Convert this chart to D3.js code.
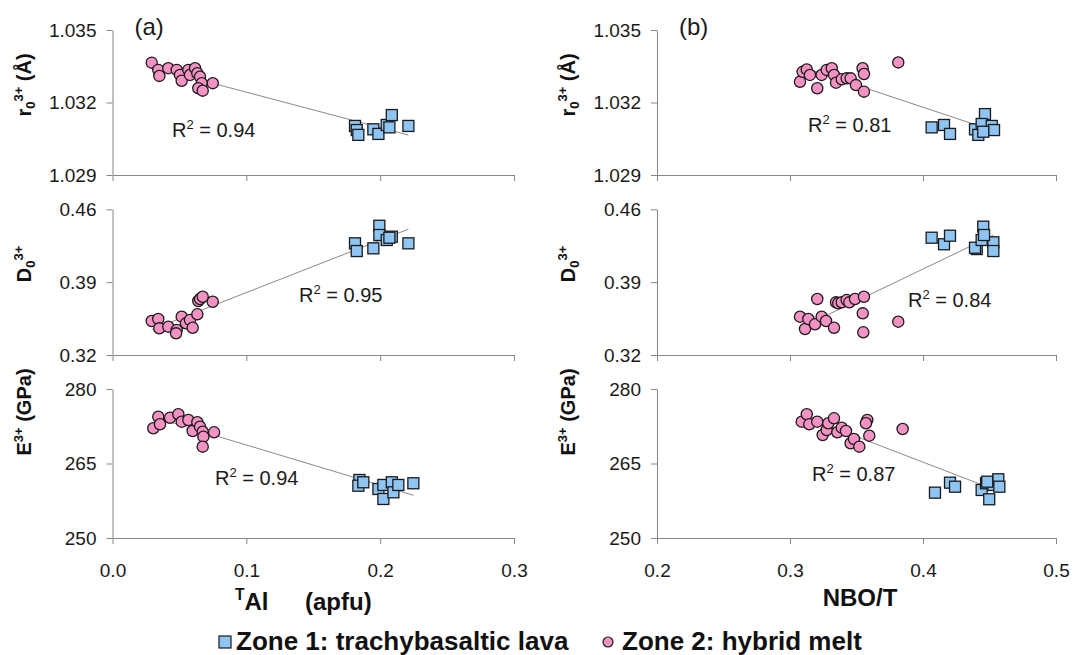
<!DOCTYPE html>
<html>
<head>
<meta charset="utf-8">
<script src="https://cdn.jsdelivr.net/npm/d3@7"></script>
<style>
  body { margin: 0; background: #fff; }
  svg { font-family: "Liberation Sans", Arial, sans-serif; }
  .axis path, .axis line { stroke: #868686; stroke-width: 1; }
  .axis text { font-size: 19px; fill: #1a1a1a; }
  .ytitle, .xtitle, .legend text { font-weight: bold; fill: #111; }
</style>
</head>
<body>
<div id="container"></div>
<script>
/* CONSTANTS AND GLOBALS */
const width = 1075,
  height = 655,
  pink = "#F592C4",
  blue = "#8FC5F2";

// tick values
const xTicksTAl = [0, 0.1, 0.2, 0.3];
const xTicksNBO = [0.2, 0.3, 0.4, 0.5];
const r0Ticks = [1.029, 1.032, 1.035];
const d0Ticks = [0.32, 0.39, 0.46];
const eTicks = [250, 265, 280];

// R² of the fits, [TAl, NBO/T]
const r2_r0 = ["0.94", "0.81"];
const r2_d0 = ["0.95", "0.84"];
const r2_e = ["0.94", "0.87"];

// Zone 1 (trachybasaltic lava) and Zone 2 (hybrid melt), [x, y]
// -- vs TAl
const r0_TAl_zone1 = [[0.1812,1.03103],[0.1825,1.03086],[0.1837,1.03066],[0.1949,1.03089],[0.1987,1.03070],[0.2049,1.03107],[0.2087,1.03148],[0.2069,1.03097],[0.2211,1.03103]];
const r0_TAl_zone2 = [[0.0293,1.03365],[0.0342,1.03335],[0.0350,1.03310],[0.0417,1.03342],[0.0480,1.03335],[0.0504,1.03314],[0.0517,1.03290],[0.0567,1.03335],[0.0579,1.03314],[0.0617,1.03342],[0.0634,1.03321],[0.0654,1.03307],[0.0667,1.03280],[0.0641,1.03259],[0.0674,1.03249],[0.0749,1.03280]];
const d0_TAl_zone1 = [[0.1812,0.4273],[0.1825,0.4199],[0.1949,0.4225],[0.1994,0.4442],[0.1994,0.4353],[0.2049,0.4305],[0.2087,0.4337],[0.2069,0.4327],[0.2211,0.4273]];
const d0_TAl_zone2 = [[0.0293,0.3527],[0.0342,0.3546],[0.0350,0.3456],[0.0417,0.3472],[0.0480,0.3440],[0.0475,0.3408],[0.0517,0.3568],[0.0549,0.3504],[0.0579,0.3536],[0.0599,0.3462],[0.0634,0.3591],[0.0641,0.3719],[0.0654,0.3738],[0.0674,0.3760],[0.0749,0.3712]];
const e_TAl_zone1 = [[0.1845,261.68],[0.1837,260.53],[0.1874,261.22],[0.1987,259.87],[0.2024,260.68],[0.2024,257.86],[0.2087,261.22],[0.2099,259.20],[0.2136,260.68],[0.2248,261.02]];
const e_TAl_zone2 = [[0.0305,272.09],[0.0342,274.42],[0.0355,272.90],[0.0430,274.22],[0.0492,274.91],[0.0517,273.42],[0.0567,273.76],[0.0599,271.55],[0.0634,273.30],[0.0654,272.41],[0.0674,271.40],[0.0679,270.40],[0.0674,268.39],[0.0759,271.28]];
// -- vs NBO/T
const r0_NBO_zone1 = [[0.4065,1.03097],[0.4158,1.03107],[0.4203,1.03070],[0.4391,1.03089],[0.4416,1.03066],[0.4466,1.03152],[0.4441,1.03111],[0.4517,1.03103],[0.4534,1.03086],[0.4453,1.03079]];
const r0_NBO_zone2 = [[0.3075,1.03286],[0.3095,1.03327],[0.3126,1.03337],[0.3150,1.03314],[0.3205,1.03259],[0.3238,1.03314],[0.3276,1.03335],[0.3314,1.03342],[0.3331,1.03314],[0.3346,1.03282],[0.3389,1.03296],[0.3426,1.03300],[0.3456,1.03300],[0.3496,1.03272],[0.3556,1.03245],[0.3546,1.03342],[0.3556,1.03318],[0.3814,1.03366]];
const d0_NBO_zone1 = [[0.4065,0.4327],[0.4158,0.4264],[0.4203,0.4346],[0.4404,0.4218],[0.4391,0.4231],[0.4453,0.4433],[0.4441,0.4305],[0.4529,0.4283],[0.4529,0.4199],[0.4459,0.4353]];
const d0_NBO_zone2 = [[0.3075,0.3568],[0.3113,0.3450],[0.3138,0.3546],[0.3188,0.3495],[0.3205,0.3738],[0.3238,0.3568],[0.3271,0.3527],[0.3331,0.3462],[0.3346,0.3706],[0.3363,0.3697],[0.3389,0.3706],[0.3426,0.3728],[0.3446,0.3706],[0.3489,0.3738],[0.3547,0.3600],[0.3551,0.3418],[0.3556,0.3760],[0.3814,0.3520]];
const e_NBO_zone1 = [[0.4090,259.13],[0.4203,261.14],[0.4241,260.33],[0.4441,259.67],[0.4474,261.02],[0.4498,257.80],[0.4529,260.68],[0.4566,261.82],[0.4574,260.33],[0.4483,261.34]];
const e_NBO_zone2 = [[0.3088,273.42],[0.3126,274.91],[0.3145,272.89],[0.3205,273.42],[0.3246,270.74],[0.3276,271.75],[0.3288,273.10],[0.3331,274.10],[0.3356,271.28],[0.3389,272.21],[0.3421,271.55],[0.3456,269.07],[0.3481,269.94],[0.3521,268.39],[0.3581,273.76],[0.3571,273.10],[0.3596,270.60],[0.3847,271.95]];

/* LAYOUT */
const cols = [
  { range: [112.5, 514], domain: [0, 0.3], ticks: xTicksTAl, tag: "(a)" },
  { range: [657, 1056], domain: [0.2, 0.5], ticks: xTicksNBO, tag: "(b)" }
];
const rows = [
  { range: [175, 30], ticks: r0Ticks, fmt: ".3f", r2: r2_r0, data: [[r0_TAl_zone1, r0_TAl_zone2], [r0_NBO_zone1, r0_NBO_zone2]],
    r2At: [[172, 137], [808, 132]], titleY: 85, title: [["r", ""], ["0", "sub"], ["3+", "sup"], [" (Å)", ""]] },
  { range: [355, 209.3], ticks: d0Ticks, fmt: ".2f", r2: r2_d0, data: [[d0_TAl_zone1, d0_TAl_zone2], [d0_NBO_zone1, d0_NBO_zone2]],
    r2At: [[299, 302], [908, 307]], titleY: 264, title: [["D", ""], ["0", "sub"], ["3+", "sup"]] },
  { range: [538, 389], ticks: eTicks, fmt: "d", r2: r2_e, data: [[e_TAl_zone1, e_TAl_zone2], [e_NBO_zone1, e_NBO_zone2]],
    r2At: [[215, 485], [812, 481]], titleY: 412, title: [["E", ""], ["3+", "sup"], [" (GPa)", ""]] }
];

let svg;

function fit(points) {
  const mx = d3.mean(points, d => d[0]), my = d3.mean(points, d => d[1]);
  const b = d3.sum(points, d => (d[0] - mx) * (d[1] - my)) / d3.sum(points, d => (d[0] - mx) ** 2);
  const [x0, x1] = d3.extent(points, d => d[0]);
  return [[x0, my + b * (x0 - mx)], [x1, my + b * (x1 - mx)]];
}

// text with sub/superscript pieces
function richText(sel, parts, size) {
  let shift = 0;
  parts.forEach(([t, kind]) => {
    const target = kind === "sup" ? -0.4 * size : kind === "sub" ? 0.22 * size : 0;
    sel.append("tspan")
      .attr("dy", target - shift)
      .attr("font-size", kind ? size * 0.65 : size)
      .text(t);
    shift = target;
  });
}

function init() {
  svg = d3.select("#container").append("svg")
    .attr("width", width)
    .attr("height", height);

  rows.forEach((row, ri) => {
    const y = d3.scaleLinear().domain(d3.extent(row.ticks)).range(row.range);
    cols.forEach((col, ci) => {
      const x = d3.scaleLinear().domain(col.domain).range(col.range);
      const g = svg.append("g");

      // axes
      const xAxis = d3.axisBottom(x).tickValues(col.ticks).tickSize(6).tickSizeOuter(0).tickPadding(20)
        .tickFormat(ri === rows.length - 1 ? d3.format(".1f") : "");
      g.append("g").attr("class", "axis")
        .attr("transform", `translate(0,${row.range[0]})`)
        .call(xAxis);

      const yAxis = d3.axisLeft(y).tickValues(row.ticks).tickSize(6).tickSizeOuter(0).tickPadding(10)
        .tickFormat(d3.format(row.fmt));
      g.append("g").attr("class", "axis")
        .attr("transform", `translate(${col.range[0]},0)`)
        .call(yAxis);

      // trend line over both zones
      const [zone1, zone2] = row.data[ci];
      const line = fit(zone1.concat(zone2));
      g.append("path")
        .attr("d", d3.line().x(d => x(d[0])).y(d => y(d[1]))(line))
        .attr("stroke", "#8a8a8a")
        .attr("stroke-width", 1)
        .attr("fill", "none");

      // zone 2 circles
      g.selectAll("circle").data(zone2).join("circle")
        .attr("cx", d => x(d[0]))
        .attr("cy", d => y(d[1]))
        .attr("r", 5.6)
        .attr("fill", pink)
        .attr("stroke", "#1a1a1a")
        .attr("stroke-width", 1.3);

      // zone 1 squares
      g.selectAll("rect").data(zone1).join("rect")
        .attr("x", d => x(d[0]) - 5.5)
        .attr("y", d => y(d[1]) - 5.5)
        .attr("width", 11)
        .attr("height", 11)
        .attr("fill", blue)
        .attr("stroke", "#1a1a1a")
        .attr("stroke-width", 1.3);

      // R² label
      const r2 = g.append("text")
        .attr("x", row.r2At[ci][0])
        .attr("y", row.r2At[ci][1])
        .attr("fill", "#1a1a1a");
      richText(r2, [["R", ""], ["2", "sup"], [" = " + row.r2[ci], ""]], 20);

      // y title
      const t = g.append("text")
        .attr("class", "ytitle")
        .attr("text-anchor", "middle")
        .attr("transform", `translate(${col.range[0] - 82},${row.titleY}) rotate(-90)`);
      richText(t, row.title, 20);
    });
  });

  // panel tags
  cols.forEach(col => {
    svg.append("text")
      .attr("x", col.range[0] + 22)
      .attr("y", 35)
      .attr("font-size", 24)
      .attr("fill", "#1a1a1a")
      .text(col.tag);
  });

  // x titles
  const xt1 = svg.append("text").attr("class", "xtitle").attr("x", 235).attr("y", 610);
  richText(xt1, [["T", "sup"], ["Al", ""]], 24);
  svg.append("text").attr("class", "xtitle").attr("x", 305).attr("y", 610).attr("font-size", 24).text("(apfu)");
  svg.append("text").attr("class", "xtitle").attr("x", 860).attr("y", 606)
    .attr("text-anchor", "middle").attr("font-size", 24).text("NBO/T");

  // legend
  const legend = svg.append("g").attr("class", "legend");
  legend.append("rect")
    .attr("x", 219).attr("y", 636).attr("width", 12).attr("height", 12)
    .attr("fill", blue).attr("stroke", "#1a1a1a").attr("stroke-width", 1.2);
  legend.append("text").attr("x", 236).attr("y", 650).attr("font-size", 26)
    .text("Zone 1: trachybasaltic lava");
  legend.append("circle")
    .attr("cx", 608).attr("cy", 642).attr("r", 5)
    .attr("fill", pink).attr("stroke", "#1a1a1a").attr("stroke-width", 1.2);
  legend.append("text").attr("x", 622).attr("y", 650).attr("font-size", 26)
    .text("Zone 2: hybrid melt");
}

init();
</script>
</body>
</html>
